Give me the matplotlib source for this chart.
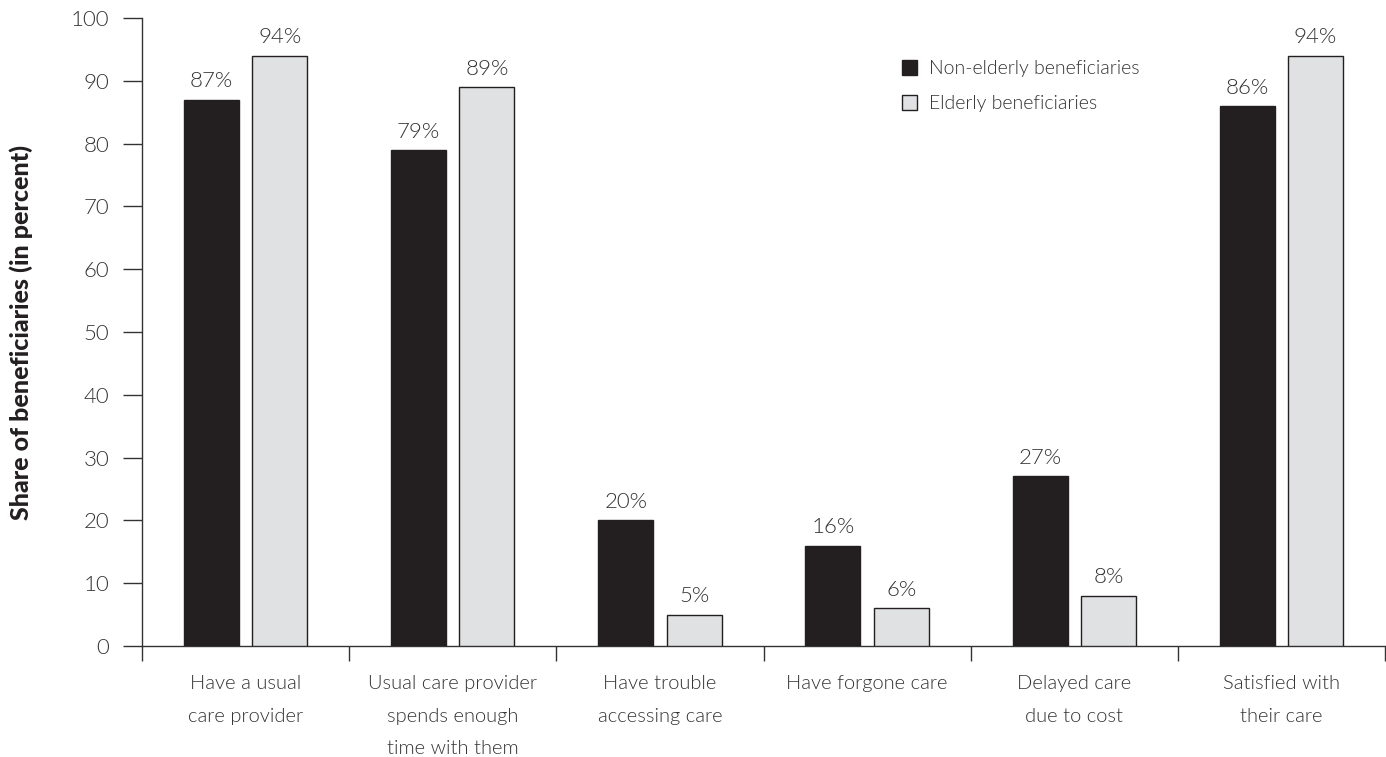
import matplotlib
matplotlib.use("Agg")
import matplotlib.pyplot as plt
import numpy as np
from matplotlib.patches import Patch

categories = [
    "Have a usual\ncare provider",
    "Usual care provider\nspends enough\ntime with them",
    "Have trouble\naccessing care",
    "Have forgone care",
    "Delayed care\ndue to cost",
    "Satisfied with\ntheir care",
]
non_elderly = [87, 79, 20, 16, 27, 86]
elderly = [94, 89, 5, 6, 8, 94]
series_names = ["Non-elderly beneficiaries", "Elderly beneficiaries"]
y_ticks = [0, 10, 20, 30, 40, 50, 60, 70, 80, 90, 100]

DARK = "#231f20"
LIGHT = "#e0e1e3"
TEXT = "#333333"
FONT = ["Lato", "DejaVu Sans"]
THIN = 300

plt.rcParams["font.family"] = FONT

fig = plt.figure(figsize=(13.86, 7.57), dpi=100)
ax = fig.add_axes([142 / 1386, 1 - 646 / 757, (1385 - 142) / 1386, (646 - 18) / 757])

x = np.arange(len(categories))
width = 0.266
offset = 0.165

b1 = ax.bar(x - offset, non_elderly, width, color=DARK, edgecolor=DARK, linewidth=1.0, zorder=3)
b2 = ax.bar(x + offset, elderly, width, color=LIGHT, edgecolor=DARK, linewidth=1.0, zorder=3)

for bars, vals in ((b1, non_elderly), (b2, elderly)):
    for rect, v in zip(bars, vals):
        ax.annotate(f"{v}%", (rect.get_x() + rect.get_width() / 2, v),
                    xytext=(0, 6), textcoords="offset points",
                    ha="center", va="bottom", fontsize=16, color=TEXT,
                    fontweight=THIN)

ax.set_xlim(-0.5, len(categories) - 0.5)
ax.set_ylim(0, 100)

# y axis
ax.set_yticks(y_ticks)
ax.set_yticklabels([str(t) for t in y_ticks], fontsize=16, color=TEXT, fontweight=THIN)
ax.tick_params(axis="y", direction="out", length=13.5, width=1.0, color="#333333", pad=10)

# x axis: labels at group centres, ticks at group boundaries
ax.set_xticks(x)
ax.set_xticklabels(categories, fontsize=14.5, color=TEXT, fontweight=THIN, linespacing=2.1, va="top")
ax.tick_params(axis="x", which="major", length=0, pad=21)
ax.set_xticks(np.arange(-0.5, len(categories), 1.0), minor=True)
ax.tick_params(axis="x", which="minor", direction="out", length=10.5, width=1.0, color="#333333")

for side in ("top", "right"):
    ax.spines[side].set_visible(False)
for side in ("left", "bottom"):
    ax.spines[side].set_color("#333333")
    ax.spines[side].set_linewidth(1.0)

ax.set_ylabel("Share of beneficiaries (in percent)", fontsize=18, fontweight="black",
              color=DARK)
ax.yaxis.set_label_coords(-0.088, 0.5)

handles = [Patch(facecolor=DARK, edgecolor=DARK), Patch(facecolor=LIGHT, edgecolor=DARK)]
leg = ax.legend(handles, series_names, loc="upper left", bbox_to_anchor=(0.605, 0.945),
                frameon=False, fontsize=14, handlelength=0.78, handleheight=0.78,
                handletextpad=0.6, labelspacing=0.9, borderaxespad=0)
for t in leg.get_texts():
    t.set_color(TEXT)
    t.set_fontweight(THIN)

fig.savefig("out.png", dpi=100)
